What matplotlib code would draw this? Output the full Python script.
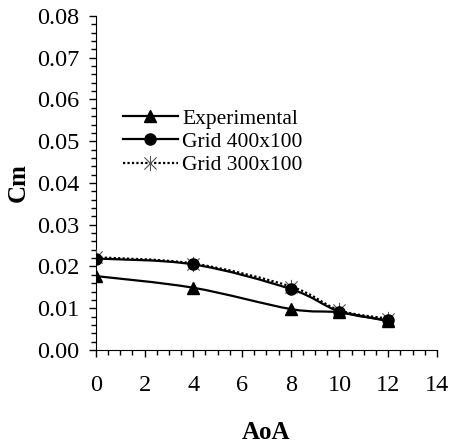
import matplotlib
matplotlib.use('Agg')
import matplotlib.pyplot as plt
from matplotlib.path import Path
from matplotlib.patches import PathPatch
from matplotlib.lines import Line2D
from matplotlib.ticker import MultipleLocator, FormatStrFormatter

# data
aoa = [0, 4, 8, 10, 12]
cm_exp = [0.0177, 0.0149, 0.0098, 0.0090, 0.0069]
cm_400 = [0.0219, 0.0205, 0.0146, 0.0092, 0.0071]
cm_300 = [0.0222, 0.0207, 0.0152, 0.0095, 0.0075]
labels = ['Experimental', 'Grid 400x100', 'Grid 300x100']

plt.rcParams['font.family'] = ['Liberation Serif', 'DejaVu Serif']

# excel style asterisk: vertical bar plus an X
star = Path([(0, -1), (0, 1), (-0.8, -0.8), (0.8, 0.8), (-0.8, 0.8), (0.8, -0.8)],
            [Path.MOVETO, Path.LINETO, Path.MOVETO, Path.LINETO, Path.MOVETO, Path.LINETO])


def smooth_path(x, y):
    # excel-like smoothed line, bezier segments through the points
    pts = list(zip(x, y))
    n = len(pts)
    verts = [pts[0]]
    codes = [Path.MOVETO]
    for i in range(n - 1):
        p0 = pts[i - 1] if i > 0 else pts[i]
        p1 = pts[i]
        p2 = pts[i + 1]
        p3 = pts[i + 2] if i + 2 < n else pts[i + 1]
        c1 = (p1[0] + (p2[0] - p0[0]) / 6, p1[1] + (p2[1] - p0[1]) / 6)
        c2 = (p2[0] - (p3[0] - p1[0]) / 6, p2[1] - (p3[1] - p1[1]) / 6)
        verts += [c1, c2, p2]
        codes += [Path.CURVE4] * 3
    return Path(verts, codes)


fig = plt.figure(figsize=(4.5, 4.43), dpi=100)
ax = fig.add_axes([0.213, 0.21, 0.758, 0.754])

ax.add_patch(PathPatch(smooth_path(aoa, cm_300), fill=False, color='black', lw=1.6,
                       linestyle=(0, (1, 1)), zorder=2))
ax.plot(aoa, cm_300, linestyle='none', marker=star, ms=11, mew=0.8, color='#555555', zorder=3)
ax.add_patch(PathPatch(smooth_path(aoa, cm_400), fill=False, color='black', lw=1.6, zorder=4))
ax.plot(aoa, cm_400, linestyle='none', marker='o', ms=8, color='black', zorder=5)
ax.add_patch(PathPatch(smooth_path(aoa, cm_exp), fill=False, color='black', lw=1.6, zorder=6))
ax.plot(aoa, cm_exp, linestyle='none', marker='^', ms=9, color='black', zorder=7)

ax.set_xlim(0, 14)
ax.set_ylim(0, 0.08)
ax.xaxis.set_major_locator(MultipleLocator(2))
ax.xaxis.set_minor_locator(MultipleLocator(0.5))
ax.yaxis.set_major_locator(MultipleLocator(0.01))
ax.yaxis.set_minor_locator(MultipleLocator(0.002))
ax.yaxis.set_major_formatter(FormatStrFormatter('%.2f'))
ax.spines['top'].set_visible(False)
ax.spines['right'].set_visible(False)
ax.tick_params(which='major', direction='out', length=5, width=1, labelsize=17.5)
ax.tick_params(which='minor', direction='out', length=3.6, width=1)
ax.tick_params(axis='x', which='major', pad=13)
ax.tick_params(axis='y', which='major', pad=7)

ax.set_xlabel('AoA', fontsize=18, fontweight='bold')
ax.set_ylabel('Cm', fontsize=18, fontweight='bold')
ax.xaxis.set_label_coords(0.5, -0.212)
ax.yaxis.set_label_coords(-0.195, 0.5)

handles = [
    Line2D([], [], color='black', lw=1.6, marker='^', ms=9),
    Line2D([], [], color='black', lw=1.6, marker='o', ms=8),
    Line2D([], [], color='black', lw=1.6, linestyle=(0, (1, 1)), marker=star, ms=11,
           mew=0.8, mec='#555555'),
]
ax.legend(handles, labels, loc='center left', bbox_to_anchor=(0.079, 0.623), frameon=False,
          fontsize=15.5, handlelength=2.55, handletextpad=0.22, labelspacing=0.15,
          borderpad=0, borderaxespad=0)

fig.savefig('out.png', dpi=100)
